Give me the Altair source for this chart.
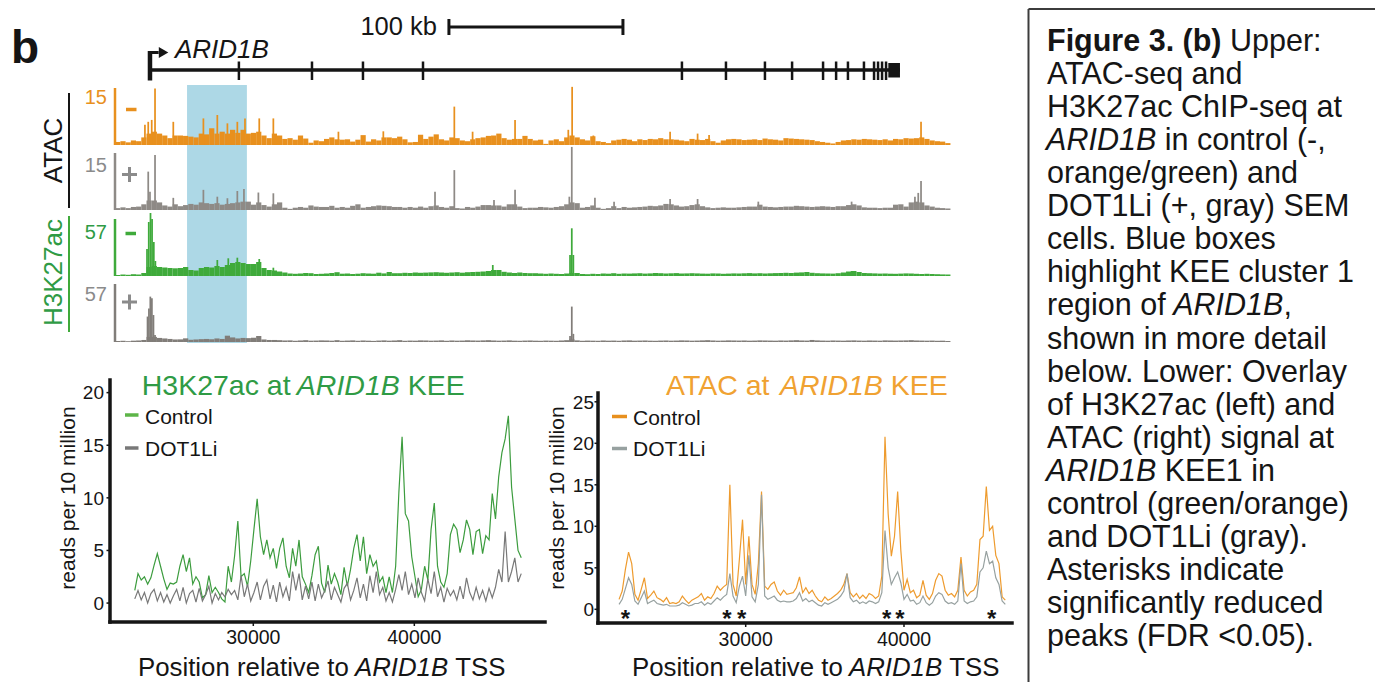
import altair as alt
import pandas as pd

# ============================================================ DATA
# --- genome browser tracks (kb relative to ARID1B TSS), 3-kb background bins from -20 kb
TRACK_BIN_START_KB = -20.0
TRACK_BIN_KB = 3.0

atac_ctrl_bins = [
    0.8, 1.0, 0.7, 1.2, 1.0, 2.0, 3.0, 3.5, 3.0, 2.5,
    1.8, 2.5, 2.5, 2.4, 2.2, 2.0, 3.0, 2.8, 4.4, 3.0,
    3.5, 3.0, 4.0, 3.2, 4.0, 3.0, 3.2, 3.5, 2.5, 1.8,
    3.0, 2.5, 1.6, 1.8, 1.4, 2.5, 1.7, 0.6, 1.2, 1.0,
    1.6, 2.0, 1.5, 1.4, 1.5, 0.9, 1.4, 2.6, 0.9, 1.5,
    1.2, 2.0, 2.0, 1.8, 2.2, 1.5, 0.7, 0.8, 2.7, 1.6,
    2.2, 2.8, 1.5, 1.2, 2.0, 1.8, 1.2, 1.0, 1.5, 1.8,
    2.0, 2.4, 2.5, 3.0, 1.8, 1.4, 1.6, 1.6, 2.4, 1.6,
    1.2, 1.4, 0.3, 1.2, 1.5, 1.0, 2.0, 2.5, 2.0, 1.5,
    1.2, 2.3, 1.0, 0.8, 0.5, 1.2, 1.4, 1.6, 1.4, 1.0,
    1.5, 1.3, 1.6, 1.5, 1.8, 1.5, 1.5, 1.4, 1.2, 1.0,
    1.6, 1.4, 1.3, 1.6, 1.0, 0.6, 1.2, 1.5, 1.6, 1.5,
    1.3, 1.4, 1.5, 1.3, 1.7, 1.5, 1.4, 1.2, 1.8, 1.7,
    1.6, 1.5, 1.4, 1.3, 1.0, 0.8, 0.6, 0.4, 0.8, 1.2,
    1.3, 1.5, 1.4, 1.6, 1.5, 1.4, 1.3, 1.5, 1.2, 1.6,
    1.5, 1.8, 1.7, 1.8, 2.0, 1.6, 1.2, 1.0, 0.9, 0.5,
]
atac_ctrl_peak_kb = [-2.9, -1.0, 1.0, 2.9, 13.4, 30.7, 38.7, 44.5, 50.2, 54.6, 62.8, 70.9,
                     108.3, 134.1, 174.9, 185.4, 209.8, 240.4, 242.6, 254.8, 298.9, 314.7, 321.3, 443.1]
atac_ctrl_peak_val = [5.3, 6.1, 6.6, 14.9, 6.1, 7.0, 7.9, 5.7, 6.1, 7.0, 7.0, 7.0,
                      3.5, 3.6, 10.1, 3.5, 6.6, 4.0, 15.3, 2.5, 3.5, 3.0, 2.6, 6.1]

atac_dot_bins = [
    0.5, 0.7, 0.5, 0.8, 0.9, 1.5, 2.5, 2.5, 2.0, 1.2,
    0.9, 1.5, 1.0, 1.3, 1.6, 1.4, 2.0, 1.8, 1.6, 1.8,
    1.4, 1.6, 1.8, 2.0, 2.2, 2.2, 1.4, 2.0, 1.3, 0.9,
    1.5, 2.0, 0.6, 0.3, 0.6, 0.8, 0.6, 1.2, 0.9, 0.8,
    0.8, 1.1, 0.6, 0.8, 0.6, 1.1, 1.5, 0.6, 0.8, 1.0,
    1.2, 1.1, 1.0, 0.8, 0.8, 0.6, 0.8, 0.6, 0.9, 0.6,
    1.0, 1.2, 0.8, 0.6, 1.0, 0.5, 0.4, 0.8, 0.6, 0.9,
    1.3, 1.3, 1.2, 1.2, 0.9, 1.5, 1.5, 0.9, 0.5, 0.6,
    0.6, 0.8, 0.7, 0.6, 0.8, 1.0, 1.5, 2.0, 1.8, 0.6,
    0.8, 1.2, 0.6, 0.3, 0.5, 1.0, 0.5, 0.8, 0.6, 0.7,
    0.8, 0.9, 1.1, 1.0, 1.2, 1.6, 1.5, 1.2, 0.9, 1.0,
    1.3, 1.5, 1.0, 0.7, 0.5, 0.6, 0.7, 0.6, 0.6, 0.7,
    0.8, 0.9, 0.9, 1.4, 0.9, 0.8, 0.7, 0.8, 0.9, 0.9,
    1.1, 1.0, 0.9, 0.8, 0.9, 1.0, 0.9, 0.8, 1.0, 1.0,
    1.3, 1.5, 1.2, 0.7, 0.6, 0.6, 0.5, 0.6, 0.6, 1.4,
    1.5, 0.9, 2.0, 2.2, 2.0, 1.2, 0.9, 0.6, 0.5, 0.4,
]
atac_dot_peak_kb = [-1.0, 0.0, 2.9, 13.4, 30.7, 38.7, 44.5, 50.2, 54.0, 62.3, 70.9, 163.8, 174.9,
                    197.7, 209.8, 241.0, 242.4, 255.7, 266.7, 298.9, 314.7, 349.6, 403.2, 439.6, 441.5, 443.1]
atac_dot_peak_val = [10.1, 4.8, 14.5, 3.2, 5.3, 3.5, 3.1, 5.0, 5.5, 4.6, 4.4, 4.8, 10.5,
                     2.6, 5.3, 3.5, 16.6, 3.2, 2.2, 2.9, 2.9, 2.2, 2.2, 3.5, 4.5, 7.6]

h3_ctrl_bins = [
    1.0, 1.5, 1.2, 1.8, 1.5, 3.0, 9.0, 10.0, 9.0, 8.5,
    8.0, 7.7, 8.0, 9.0, 6.0, 5.5, 8.0, 9.0, 8.5, 10.0,
    9.0, 11.0, 13.0, 14.0, 13.0, 12.0, 12.0, 14.0, 8.0, 6.0,
    5.5, 4.5, 3.5, 2.5, 2.2, 2.5, 3.0, 2.8, 2.0, 2.2,
    2.5, 3.0, 3.8, 2.3, 2.5, 2.0, 2.3, 2.8, 2.5, 2.3,
    3.3, 2.6, 4.0, 2.8, 2.8, 3.2, 3.0, 3.5, 3.2, 3.4,
    3.6, 3.8, 3.5, 3.2, 3.5, 3.8, 3.3, 3.8, 4.0, 4.2,
    4.5, 5.0, 6.0, 6.0, 4.2, 3.5, 3.0, 3.5, 3.0, 2.8,
    2.8, 2.5, 2.2, 2.5, 2.2, 2.0, 2.5, 3.0, 3.0, 2.0,
    1.8, 2.2, 2.0, 2.5, 2.3, 2.8, 2.2, 2.5, 2.4, 2.6,
    2.8, 2.4, 2.6, 3.0, 2.8, 2.5, 2.7, 2.9, 2.5, 2.6,
    2.8, 2.6, 2.4, 2.3, 2.6, 2.5, 2.2, 2.4, 2.6, 2.5,
    2.7, 2.9, 2.6, 2.8, 2.5, 2.7, 2.9, 3.0, 3.2, 3.0,
    3.4, 3.6, 4.0, 3.2, 2.8, 2.6, 2.5, 2.4, 2.8, 3.5,
    4.5, 5.0, 4.0, 3.0, 2.8, 2.6, 2.4, 2.5, 2.3, 2.2,
    2.4, 2.6, 2.5, 2.2, 2.0, 2.2, 2.0, 1.8, 1.6, 1.5,
]
h3_ctrl_peak_kb = [-1.7, -0.7, 0.3, 1.2, 2.2, 3.1, 38.7, 45.0, 50.2, 62.8, 70.9, 197.0, 241.4, 242.4, 243.3, 403.2]
h3_ctrl_peak_val = [27, 54, 63, 57, 34, 15, 16, 17.7, 18.3, 17, 8.3, 11, 21, 47.7, 21, 5]

h3_dot_bins = [
    1.0, 1.2, 0.8, 1.3, 1.5, 2.0, 5.0, 5.0, 4.0, 3.5,
    3.0, 2.5, 2.6, 3.6, 2.2, 2.5, 2.8, 3.0, 2.7, 3.5,
    3.0, 6.2, 4.5, 3.5, 4.0, 3.8, 4.2, 5.9, 2.5, 2.0,
    2.0, 1.8, 1.5, 1.6, 1.2, 1.5, 1.8, 1.3, 1.4, 1.6,
    1.5, 1.3, 1.8, 1.2, 1.4, 1.6, 1.2, 1.5, 1.3, 1.1,
    1.4, 1.6, 1.3, 1.5, 1.8, 1.2, 1.4, 1.3, 1.6, 1.5,
    1.3, 1.4, 1.6, 1.2, 1.5, 1.3, 1.4, 1.7, 1.5, 1.4,
    1.6, 1.8, 1.5, 1.3, 1.4, 1.6, 1.3, 1.2, 1.4, 1.5,
    1.3, 1.2, 1.4, 1.3, 1.2, 1.5, 1.8, 2.5, 1.6, 1.2,
    1.4, 1.3, 1.2, 1.5, 1.3, 1.4, 1.2, 1.5, 1.6, 1.3,
    1.4, 1.5, 1.3, 1.2, 1.4, 1.5, 1.3, 1.4, 1.6, 1.5,
    1.3, 1.4, 1.6, 1.8, 1.5, 1.3, 1.4, 1.6, 1.5, 1.4,
    1.5, 1.3, 1.4, 1.6, 1.5, 1.4, 1.3, 1.5, 1.4, 1.6,
    1.8, 1.5, 1.4, 2.0, 1.6, 1.4, 1.3, 1.5, 1.4, 1.3,
    1.5, 1.6, 1.4, 1.3, 1.5, 1.4, 1.3, 1.6, 1.5, 1.4,
    1.5, 1.6, 1.8, 1.5, 1.4, 1.3, 1.4, 1.2, 1.3, 1.0,
]
h3_dot_peak_kb = [-1.4, -0.6, 0.2, 1.1, 2.0, 2.9, 241.4, 242.4, 243.3]
h3_dot_peak_val = [25, 33, 44.6, 43, 26.5, 7, 6, 34.8, 8]

# gene model (kb)
gene_span_kb = [0.0, 431.0]
exon_kb = [51.1, 93.1, 122.4, 156.9, 305.7, 331.0, 353.4, 369.0, 386.8, 394.3,
           401.1, 410.3, 416.1, 418.4, 420.7, 423.0]
last_exon_kb = [424.3, 431.0]
highlight_kb = [21.3, 55.7]
scalebar_kb = [171.8, 271.8]

# --- KEE detail (bp relative to TSS), 200-bp steps
h3_pos_start, h3_pos_step = 22640, 200
h3_control = [
    1.2, 2.8, 2.2, 2.5, 1.8, 2.4, 3.6, 4.7, 3.5, 2.3,
    1.3, 1.9, 1.8, 2.0, 3.5, 4.6, 3.0, 4.3, 1.8, 2.5,
    2.0, 0.5, 0.8, 2.6, 1.0, 1.5, 1.0, 0.4, 0.1, 3.5,
    2.0, 4.5, 7.8, 2.5, 2.8, 1.6, 4.0, 7.0, 9.9, 6.3,
    4.6, 6.0, 4.3, 5.2, 3.3, 5.2, 6.2, 3.5, 2.4, 5.2,
    3.5, 6.0, 2.5, 1.8, 1.0, 2.6, 4.6, 5.4, 1.9, 1.0,
    3.6, 1.8, 2.8, 2.0, 0.8, 3.4, 1.6, 3.2, 5.2, 6.5,
    4.0, 6.3, 2.8, 4.6, 3.5, 4.0, 2.0, 2.5, 1.0, 2.5,
    1.0, 3.5, 10.5, 15.8, 8.5, 7.8, 4.4, 2.5, 0.6, 1.3,
    3.5, 2.2, 7.0, 9.5, 3.5, 2.0, 1.5, 2.8, 6.5, 7.5,
    7.0, 4.8, 6.0, 7.9, 7.0, 4.6, 6.8, 7.0, 4.7, 6.4,
    6.0, 10.4, 8.0, 12.0, 14.3, 15.6, 17.8, 11.0, 8.0, 5.0,
    4.3,
]
h3_dot1li = [
    0.4, 1.2, 0.3, 1.0, 0.0, 0.9, 1.3, 0.2, 1.0, 0.1,
    0.8, 0.0, 0.7, 1.3, 0.2, 1.5, 0.0, 0.9, 1.2, 0.1,
    1.4, 0.2, 0.8, 1.6, 0.0, 0.9, 0.3, 1.0, 0.6, 1.3,
    0.8, 1.2, 0.3, 2.6, 0.6, 1.8, 0.2, 1.0, 2.0, 0.3,
    1.6, 2.2, 0.4, 1.7, 0.1, 2.0, 0.6, 1.5, 0.2, 3.0,
    1.2, 2.8, 0.3, 1.6, 0.4, 2.0, 0.2, 1.8, 0.5, 1.2,
    2.1, 0.3, 1.5, 0.8, 0.1, 1.4, 1.9, 0.3, 1.2, 2.4,
    0.5, 1.8, 0.2, 2.6, 1.0, 3.0, 0.8, 1.5, 0.2, 1.0,
    0.1, 1.3, 2.7, 1.2, 3.0, 0.8, 1.8, 0.5, 2.4, 1.0,
    0.2, 2.3, 0.9, 3.0, 0.6, 1.5, 0.1, 1.4, 0.7, 1.2,
    0.3, 1.6, 0.4, 2.4, 1.0, 0.3, 1.5, 0.4, 1.2, 0.2,
    1.4, 0.5, 1.5, 3.2, 2.0, 6.8, 2.0, 3.0, 4.3, 2.0,
    2.8,
]
atac_pos_start, atac_pos_step = 22000, 200
atac_control = [
    1.2, 2.2, 4.8, 6.9, 5.5, 1.8, 1.1, 2.4, 3.8, 1.3,
    1.7, 2.2, 1.4, 1.2, 0.9, 1.4, 0.7, 0.8, 0.7, 0.9,
    1.6, 1.1, 0.7, 1.1, 1.3, 1.5, 1.9, 1.1, 1.5, 1.3,
    1.9, 2.8, 2.3, 2.7, 3.0, 15.0, 3.0, 1.6, 6.0, 10.8,
    3.0, 8.8, 3.0, 1.8, 5.5, 14.2, 2.8, 2.4, 3.0, 3.3,
    2.2, 1.7, 2.3, 1.8, 1.9, 2.0, 2.6, 3.9, 2.0, 2.6,
    1.9, 2.3, 1.6, 1.1, 0.9, 1.5, 1.1, 1.3, 1.6, 1.9,
    2.3, 3.0, 4.3, 2.0, 1.5, 1.9, 1.3, 1.7, 1.3, 1.9,
    1.7, 1.3, 1.6, 4.0, 20.8, 11.5, 6.4, 8.8, 14.2, 7.1,
    2.3, 3.6, 2.0, 2.3, 1.4, 1.7, 3.5, 1.7, 1.2, 1.9,
    3.5, 4.3, 4.0, 2.3, 1.7, 1.9, 1.5, 2.3, 6.3, 2.3,
    1.6, 2.1, 2.3, 3.0, 8.4, 8.8, 14.8, 9.5, 10.0, 6.5,
    5.5, 1.5, 1.1,
]
atac_dot1li = [
    0.6, 1.2, 2.5, 3.8, 3.0, 1.0, 0.6, 1.4, 2.2, 0.7,
    0.9, 1.1, 0.7, 0.6, 0.5, 0.6, 0.4, 0.4, 0.4, 0.5,
    0.8, 0.6, 0.4, 0.5, 0.7, 0.7, 0.9, 0.5, 0.8, 0.6,
    1.0, 1.4, 1.1, 1.5, 1.8, 4.3, 1.6, 0.8, 2.8, 4.0,
    1.6, 6.5, 1.5, 0.9, 3.0, 13.8, 1.6, 1.2, 1.4, 1.6,
    1.1, 0.9, 1.0, 0.9, 0.9, 1.0, 1.3, 2.0, 1.0, 1.3,
    0.9, 1.1, 0.8, 0.5, 0.4, 0.8, 0.6, 0.8, 1.0, 1.2,
    1.6, 2.2, 4.3, 1.4, 0.9, 1.1, 0.7, 0.9, 0.7, 1.0,
    0.9, 0.7, 0.9, 2.0, 9.5, 5.0, 3.0, 3.8, 4.5, 3.2,
    1.2, 1.8, 1.0, 1.1, 0.6, 0.8, 1.6, 0.8, 0.5, 0.8,
    1.6, 2.0, 1.8, 1.0, 0.7, 0.8, 0.6, 1.0, 5.5, 1.0,
    0.7, 0.9, 1.0, 1.5, 4.5, 5.0, 7.0, 5.5, 5.8, 3.8,
    3.0, 1.0, 0.6,
]
asterisk_bp = [22400, 28810, 29750, 38900, 39750, 45540]

h3_yticks = [0, 5, 10, 15, 20]
atac_yticks = [0, 5, 10, 15, 20, 25]
xticks = [30000, 40000]

caption_lines = [
    [("Figure 3. (b)", "b"), (" Upper:", "n")],
    [("ATAC-seq and", "n")],
    [("H3K27ac ChIP-seq at", "n")],
    [("ARID1B", "i"), (" in control (-,", "n")],
    [("orange/green) and", "n")],
    [("DOT1Li (+, gray) SEM", "n")],
    [("cells. Blue boxes", "n")],
    [("highlight KEE cluster 1", "n")],
    [("region of ", "n"), ("ARID1B", "i"), (",", "n")],
    [("shown in more detail", "n")],
    [("below. Lower: Overlay", "n")],
    [("of H3K27ac (left) and", "n")],
    [("ATAC (right) signal at", "n")],
    [("ARID1B", "i"), (" KEE1 in", "n")],
    [("control (green/orange)", "n")],
    [("and DOT1Li (gray).", "n")],
    [("Asterisks indicate", "n")],
    [("significantly reduced", "n")],
    [("peaks (FDR <0.05).", "n")],
]

# ============================================================ STYLE / LAYOUT
OFF = 8            # page margin: layout numbers below are page pixels
W, H = 1367, 674
FONT = "Liberation Sans"
INK = "#151515"
ORANGE = "#E8901E"
ORANGE_TXT = "#F0A232"
ORANGE_LINE = "#EE9B2E"
GREEN = "#3FAA3B"
GREEN_TXT = "#2F9B45"
GREEN_LINE = "#3C9C3E"
GREEN_LEG = "#5DB548"
GREY_T2 = "#8E8A86"
GREY_T4 = "#817D79"
GREY_LAB = "#8B8B8B"
GREY_LINE_L = "#787878"
GREY_LINE_R = "#97A1A0"
BLUE = "#ADD8E6"


def P(v):
    return v - OFF


_REG = {' ': 278, '!': 278, '(': 333, ')': 333, '+': 584, ',': 278, '-': 333, '.': 278, '/': 278,
        ':': 278, '<': 584, 'A': 667, 'B': 667, 'C': 722, 'D': 722, 'E': 667, 'F': 611, 'G': 778,
        'H': 722, 'I': 278, 'K': 667, 'L': 556, 'M': 833, 'N': 722, 'O': 778, 'P': 667, 'R': 722,
        'S': 667, 'T': 611, 'U': 722, 'a': 556, 'b': 556, 'c': 500, 'd': 556, 'e': 556, 'f': 278,
        'g': 556, 'h': 556, 'i': 222, 'j': 222, 'k': 500, 'l': 222, 'm': 833, 'n': 556, 'o': 556,
        'p': 556, 'q': 556, 'r': 333, 's': 500, 't': 278, 'u': 556, 'v': 500, 'w': 722, 'x': 500,
        'y': 500, 'z': 500}
_BOLD = {' ': 278, '(': 333, ')': 333, '.': 278, 'F': 611, 'b': 611, 'e': 556, 'g': 611,
         'i': 278, 'r': 389, 'u': 611}


def tw(s, size, st="n"):
    tab = _BOLD if st == "b" else _REG
    return sum(tab.get(c, 556) for c in s) * size / 1000.0


def text(s, x, y, size, color=INK, style="normal", weight="normal", align="left", angle=0):
    kw = dict(font=FONT, fontSize=size, color=color, fontStyle=style, fontWeight=weight,
              align=align, baseline="alphabetic")
    if angle:
        kw["angle"] = angle
    return alt.Chart(pd.DataFrame({"t": [s]})).mark_text(**kw).encode(
        x=alt.value(P(x)), y=alt.value(P(y)), text="t:N")


def rich(parts, x, y, size, color=INK, italic_pull=0.0):
    out, cur = [], x
    for s, st in parts:
        core = s.strip(" ")
        lead = len(s) - len(s.lstrip(" "))
        trail = len(s) - len(s.rstrip(" "))
        cur += lead * tw(" ", size, st)
        if st == "i":
            cur -= italic_pull * size
        out.append(text(core, cur, y, size, color,
                        style="italic" if st == "i" else "normal",
                        weight="bold" if st == "b" else "normal"))
        cur += tw(core, size, st) + trail * tw(" ", size, st)
    return out


def seg(x1, y1, x2, y2, color, w):
    return alt.Chart(pd.DataFrame({"a": [0]})).mark_rule(color=color, strokeWidth=w).encode(
        x=alt.value(P(x1)), x2=alt.value(P(x2)), y=alt.value(P(y1)), y2=alt.value(P(y2)))


def lin(lo, hi, r0, r1):
    return alt.Scale(domain=[lo, hi], range=[P(r0), P(r1)], zero=False, nice=False)


layers = []

# ============================================================ TOP: browser
GX = lin(-20.1, 458.6, 115, 948)

hl = alt.Chart(pd.DataFrame({"a": [highlight_kb[0]], "b": [highlight_kb[1]]})).mark_rect(color=BLUE).encode(
    x=alt.X("a:Q", scale=GX, axis=None), x2="b:Q", y=alt.value(P(85)), y2=alt.value(P(343)))
layers.append(hl)


def track(bins, pk, pv, vmax, base, top, color, edge):
    ys = lin(0, vmax, base, top)
    n = len(bins)
    bdf = pd.DataFrame({"x0": [TRACK_BIN_START_KB + i * TRACK_BIN_KB for i in range(n)],
                        "x1": [TRACK_BIN_START_KB + (i + 1) * TRACK_BIN_KB for i in range(n)],
                        "v": bins, "z": [0] * n})
    pdf = pd.DataFrame({"x0": [k - 0.5 for k in pk], "x1": [k + 0.5 for k in pk],
                        "v": pv, "z": [0] * len(pk)})
    enc = dict(x=alt.X("x0:Q", scale=GX, axis=None), x2="x1:Q",
               y=alt.Y("v:Q", scale=ys, axis=None), y2="z:Q")
    r1 = alt.Chart(bdf).mark_rect(color=color).encode(**enc)
    r2 = alt.Chart(pdf).mark_rect(color=color).encode(**enc)
    e = alt.Chart(pd.DataFrame({"x": [-20.1], "a": [0], "b": [vmax]})).mark_rule(
        color=edge, strokeWidth=2.5).encode(
        x=alt.X("x:Q", scale=GX, axis=None), y=alt.Y("a:Q", scale=ys, axis=None), y2="b:Q")
    return alt.layer(r1, r2, e)


layers.append(track(atac_ctrl_bins, atac_ctrl_peak_kb, atac_ctrl_peak_val, 15, 145, 88, ORANGE, ORANGE))
layers.append(track(atac_dot_bins, atac_dot_peak_kb, atac_dot_peak_val, 15, 210, 153, GREY_T2, GREY_T2))
layers.append(track(h3_ctrl_bins, h3_ctrl_peak_kb, h3_ctrl_peak_val, 57, 276, 219, GREEN, GREEN))
layers.append(track(h3_dot_bins, h3_dot_peak_kb, h3_dot_peak_val, 57, 342, 284, GREY_T4, GREY_T4))

# gene model
gl = alt.Chart(pd.DataFrame({"a": [gene_span_kb[0]], "b": [gene_span_kb[1]]})).mark_rule(
    color=INK, strokeWidth=3.5).encode(x=alt.X("a:Q", scale=GX, axis=None), x2="b:Q", y=alt.value(P(70)))
ex = alt.Chart(pd.DataFrame({"k": exon_kb})).mark_rule(color=INK, strokeWidth=2.5).encode(
    x=alt.X("k:Q", scale=GX, axis=None), y=alt.value(P(61.5)), y2=alt.value(P(80)))
le = alt.Chart(pd.DataFrame({"a": [last_exon_kb[0]], "b": [last_exon_kb[1]]})).mark_rect(color=INK).encode(
    x=alt.X("a:Q", scale=GX, axis=None), x2="b:Q", y=alt.value(P(63)), y2=alt.value(P(77.5)))
tss = alt.Chart(pd.DataFrame({"k": [0.0]})).mark_rule(color=INK, strokeWidth=4.5).encode(
    x=alt.X("k:Q", scale=GX, axis=None), y=alt.value(P(51)), y2=alt.value(P(80.5)))
arr = alt.Chart(pd.DataFrame({"a": [0.0], "b": [5.0]})).mark_rule(color=INK, strokeWidth=3).encode(
    x=alt.X("a:Q", scale=GX, axis=None), x2="b:Q", y=alt.value(P(52.5)))
head = alt.Chart(pd.DataFrame({"k": [7.8]})).mark_point(
    shape="triangle-right", filled=True, size=120, color=INK, opacity=1).encode(
    x=alt.X("k:Q", scale=GX, axis=None), y=alt.value(P(52.5)))
sb = alt.Chart(pd.DataFrame({"a": [scalebar_kb[0]], "b": [scalebar_kb[1]]})).mark_rule(
    color=INK, strokeWidth=3).encode(x=alt.X("a:Q", scale=GX, axis=None), x2="b:Q", y=alt.value(P(27)))
sbc = alt.Chart(pd.DataFrame({"k": scalebar_kb})).mark_rule(color=INK, strokeWidth=3).encode(
    x=alt.X("k:Q", scale=GX, axis=None), y=alt.value(P(19)), y2=alt.value(P(35)))
layers.append(alt.layer(gl, ex, le, tss, arr, head, sb, sbc))

layers.append(text("100 kb", 437, 35, 25.5, align="right"))
layers.append(text("ARID1B", 175, 57.5, 26, style="italic"))
layers.append(text("b", 11, 63, 46, weight="bold"))

# track labels
layers.append(text("15", 107, 104, 20, color=ORANGE, align="right"))
layers.append(text("15", 107, 171.5, 20, color=GREY_LAB, align="right"))
layers.append(text("57", 107, 239, 20, color=GREEN_TXT, align="right"))
layers.append(text("57", 107, 300.5, 20, color=GREY_LAB, align="right"))
layers.append(seg(126, 109.5, 136.5, 109.5, ORANGE, 3.5))
layers.append(seg(122, 174.5, 137, 174.5, GREY_LAB, 3))
layers.append(seg(129.5, 167, 129.5, 182, GREY_LAB, 3))
layers.append(seg(125.5, 233.5, 136, 233.5, GREEN, 3.5))
layers.append(seg(122, 302, 137, 302, GREY_LAB, 3))
layers.append(seg(129.5, 294.5, 129.5, 309.5, GREY_LAB, 3))
layers.append(text("ATAC", 61.5, 150.5, 26, angle=270, align="center"))
layers.append(text("H3K27ac", 61.5, 272.5, 26, color=GREEN_TXT, angle=270, align="center"))
layers.append(seg(69, 93, 69, 208, INK, 2))
layers.append(seg(69, 216, 69, 332, GREEN, 2))


# ============================================================ BOTTOM: KEE overlays
def kee(pos0, step, ctrl, dot, xs, ys, cc, dc, yt, ylab_x, ax_x, ax_y, xlab_base, xdom, ydom):
    n = len(ctrl)
    df = pd.DataFrame({"pos": [pos0 + i * step for i in range(n)], "c": ctrl, "d": dot[:n]})
    X = alt.X("pos:Q", scale=xs, axis=None)
    lc = alt.Chart(df).mark_line(color=cc, strokeWidth=1.2).encode(x=X, y=alt.Y("c:Q", scale=ys, axis=None))
    ld = alt.Chart(df).mark_line(color=dc, strokeWidth=1.2).encode(x=X, y=alt.Y("d:Q", scale=ys, axis=None))
    yax = alt.Chart(pd.DataFrame({"x": [xdom[0]], "a": [ydom[0]], "b": [ydom[1]]})).mark_rule(
        color=INK, strokeWidth=3.5, strokeCap="square").encode(
        x=alt.X("x:Q", scale=xs, axis=None), y=alt.Y("a:Q", scale=ys, axis=None), y2="b:Q")
    xax = alt.Chart(pd.DataFrame({"y": [ydom[0]], "a": [xdom[0]], "b": [xdom[1]]})).mark_rule(
        color=INK, strokeWidth=3.5, strokeCap="square").encode(
        y=alt.Y("y:Q", scale=ys, axis=None), x=alt.X("a:Q", scale=xs, axis=None), x2="b:Q")
    ytk = alt.Chart(pd.DataFrame({"t": yt})).mark_rule(color=INK, strokeWidth=1.5).encode(
        x=alt.value(P(ax_x - 3.5)), x2=alt.value(P(ax_x)), y=alt.Y("t:Q", scale=ys, axis=None))
    ylb = alt.Chart(pd.DataFrame({"t": yt})).mark_text(
        font=FONT, fontSize=19, color=INK, align="right", baseline="alphabetic", dy=6.8).encode(
        x=alt.value(P(ylab_x)), y=alt.Y("t:Q", scale=ys, axis=None), text="t:Q")
    xtk = alt.Chart(pd.DataFrame({"t": xticks})).mark_rule(color=INK, strokeWidth=1.5).encode(
        x=alt.X("t:Q", scale=xs, axis=None), y=alt.value(P(ax_y)), y2=alt.value(P(ax_y + 4)))
    xlb = alt.Chart(pd.DataFrame({"t": xticks})).mark_text(
        font=FONT, fontSize=19.5, color=INK, align="center", baseline="alphabetic").encode(
        x=alt.X("t:Q", scale=xs, axis=None), y=alt.value(P(xlab_base)), text="t:N")
    return [lc, ld, yax, xax, ytk, ylb, xtk, xlb]


# left: H3K27ac
XS1 = lin(21101, 48115, 110, 545)
YS1 = lin(-1.8, 21.2, 622, 380)
left = kee(h3_pos_start, h3_pos_step, h3_control, h3_dot1li, XS1, YS1, GREEN_LINE, GREY_LINE_L,
           h3_yticks, 104, 110, 622, 644, [21101, 48115], [-1.8, 21.2])
layers.append(alt.layer(*left))

# right: ATAC
XS2 = lin(20670, 46823, 598, 1012)
YS2 = lin(-1.65, 26.06, 623, 393)
right = kee(atac_pos_start, atac_pos_step, atac_control, atac_dot1li, XS2, YS2, ORANGE_LINE, GREY_LINE_R,
            atac_yticks, 594, 598, 623, 646, [20670, 46823], [-1.65, 26.06])
ast = alt.Chart(pd.DataFrame({"p": asterisk_bp, "s": ["*"] * len(asterisk_bp)})).mark_text(
    font=FONT, fontSize=24, fontWeight="bold", color=INK, align="center", baseline="alphabetic").encode(
    x=alt.X("p:Q", scale=XS2, axis=None), y=alt.value(P(626.5)), text="s:N")
layers.append(alt.layer(*right, ast))

# titles, legends, axis titles
layers += rich([("H3K27ac at ", "n"), ("ARID1B", "i"), (" KEE", "n")], 141.7, 395, 28.5, GREEN_TXT, 0.06)
layers += rich([("ATAC at ", "n"), ("ARID1B", "i"), (" KEE", "n")], 666, 395, 28.5, ORANGE_TXT, 0.06)
layers += rich([("Position relative to ", "n"), ("ARID1B", "i"), (" TSS", "n")], 138, 676, 25.8, INK, 0.04)
layers += rich([("Position relative to ", "n"), ("ARID1B", "i"), (" TSS", "n")], 632, 676, 25.8, INK, 0.04)
layers.append(text("reads per 10 million", 75, 498, 21, angle=270, align="center"))
layers.append(text("reads per 10 million", 564, 498, 21, angle=270, align="center"))

layers.append(seg(125, 415, 138.5, 415, GREEN_LEG, 3.5))
layers.append(text("Control", 145, 423.5, 21))
layers.append(seg(125, 448, 138.5, 448, GREY_LINE_L, 3.5))
layers.append(text("DOT1Li", 145, 455.5, 21))
layers.append(seg(612, 416.5, 627, 416.5, ORANGE, 3.5))
layers.append(text("Control", 633, 424.5, 21))
layers.append(seg(612, 448.5, 627, 448.5, GREY_LINE_R, 3.5))
layers.append(text("DOT1Li", 633, 456, 21))

# ============================================================ caption box
layers.append(seg(1028.5, 9, 1028.5, 700, "#3C3C3C", 2))
layers.append(seg(1028.5, 9, 1400, 9, "#3C3C3C", 2))
CAP_SIZE = 30.5
for k, parts in enumerate(caption_lines):
    layers += rich(parts, 1047, 40 + 33.07 * k + 0.358 * CAP_SIZE, CAP_SIZE, INK, 0.03)

chart = alt.layer(*layers).resolve_scale(x="independent", y="independent").properties(
    width=W, height=H, padding=0, autosize=alt.AutoSizeParams(type="none"),
    view=alt.ViewBackground(stroke="transparent", strokeWidth=0),
).configure(background="white").configure_view(strokeWidth=0, stroke="transparent")

chart.save("out.html", embed_options={"renderer": "svg", "actions": False})
